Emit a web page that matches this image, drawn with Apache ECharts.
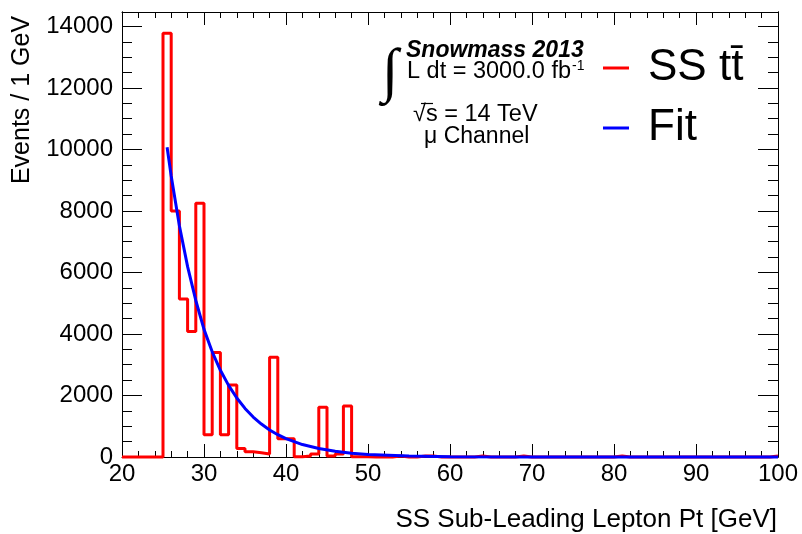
<!DOCTYPE html>
<html>
<head>
<meta charset="utf-8">
<script src="https://cdn.jsdelivr.net/npm/echarts@6/dist/echarts.min.js"></script>
<style>
  html, body { margin: 0; background: #fff; }
  #main { width: 802px; height: 534px; }
</style>
</head>
<body>
<div id="main"></div>
<script>
// 1 GeV bins, first bin starts at 20 GeV
var binStart = 20;
var binWidth = 1;
var counts = [
    0, 0, 0, 0, 0,                       // 20-24
    13780, 8000, 5140, 4080, 8250,       // 25-29
    720, 3400, 720, 2340, 280,           // 30-34
    170, 140, 100, 3240, 590,            // 35-39
    590, 10, 30, 100, 1620,              // 40-44
    30, 100, 1660, 10, 10,               // 45-49
    0, 0, 0, 30, 0, 0, 30, 30, 0, 0,     // 50-59
    0, 0, 0, 30, 0, 0, 0, 0, 30, 0,      // 60-69
    0, 0, 0, 0, 0, 0, 0, 0, 0, 0,        // 70-79
    30, 0, 0, 0, 0, 0, 0, 0, 0, 0,       // 80-89
    0, 0, 0, 0, 0, 0, 0, 0, 0, 30        // 90-99
];

// fit curve
var fitX = [25.5, 26, 27, 28, 29, 30, 31, 32, 33, 34, 35, 36, 37, 38, 39, 40, 42, 44, 46, 48, 50, 55, 60, 70, 80, 90, 100];
var fitY = [10070, 9140, 7520, 6190, 5090, 4150, 3420, 2820, 2330, 1920, 1580, 1300, 1070, 880, 725, 600, 405, 275, 185, 125, 85, 32, 12, 2, 0, 0, 0];

var histName = 'SS tt\u0304';
var fitName = 'Fit';

var histData = [];
for (var i = 0; i < counts.length; i++) {
    histData.push([binStart + i * binWidth, counts[i]]);
}
histData.push([binStart + counts.length * binWidth, counts[counts.length - 1]]);

var fitData = fitX.map(function (x, i) { return [x, fitY[i]]; });

var FONT = '"Liberation Sans", Arial, sans-serif';
var black = '#000';

function xAx(pos, showLabel) {
    return {
        type: 'value', position: pos, min: 20, max: 100, interval: 10,
        axisLine: { show: true, onZero: false, lineStyle: { color: black, width: 1 } },
        axisTick: { inside: true, length: 13, lineStyle: { color: black } },
        minorTick: { show: true, splitNumber: 5, length: 6, lineStyle: { color: black } },
        axisLabel: { show: showLabel, color: black, fontSize: 24, fontFamily: FONT, margin: 5 },
        splitLine: { show: false }
    };
}
function yAx(pos, step, len, showLabel) {
    return {
        type: 'value', position: pos, min: 0, max: 14470, interval: step,
        axisLine: { show: true, onZero: false, lineStyle: { color: black, width: 1 } },
        axisTick: { inside: true, length: len, lineStyle: { color: black } },
        axisLabel: {
            show: showLabel, color: black, fontSize: 24, fontFamily: FONT, margin: 9, showMaxLabel: false,
            formatter: function (v) { return String(v); }
        },
        splitLine: { show: false }
    };
}

function txt(x, y, s, font, align) {
    return {
        type: 'text', x: x, y: y,
        style: { text: s, font: font, fill: black, align: align || 'left', verticalAlign: 'middle',
                 textAlign: align || 'left', textVerticalAlign: 'middle' }
    };
}

var myChart = echarts.init(document.getElementById('main'));
var option = {
    animation: false,
    backgroundColor: '#fff',
    grid: { left: 122, right: 24, top: 12, bottom: 77, outerBoundsMode: 'none' },
    xAxis: [xAx('bottom', true), xAx('top', false)],
    yAxis: [
        yAx('left', 2000, 20, true),
        yAx('left', 500, 10, false),
        yAx('right', 2000, 20, false),
        yAx('right', 500, 10, false)
    ],
    legend: {
        orient: 'vertical', left: 603, top: 40, padding: 0,
        itemWidth: 26, itemHeight: 3, itemGap: 4, icon: 'rect',
        selectedMode: false,
        textStyle: { fontSize: 44, fontFamily: FONT, color: black, lineHeight: 46, padding: [10, 0, 0, 14] },
        data: [histName, fitName]
    },
    series: [
        {
            name: histName, type: 'line', step: 'end', data: histData,
            symbol: 'none', clip: false, z: 2,
            lineStyle: { color: '#ff0000', width: 3 },
            itemStyle: { color: '#ff0000' }
        },
        {
            name: fitName, type: 'line', data: fitData,
            symbol: 'none', clip: false, z: 3,
            lineStyle: { color: '#0000ff', width: 3 },
            itemStyle: { color: '#0000ff' }
        }
    ],
    graphic: [
        txt(390, 74, '\u222B', '60px "Liberation Serif"', 'center'),
        txt(406, 51, 'Snowmass 2013', 'italic bold 23px ' + FONT),
        txt(407, 72, 'L dt = 3000.0 fb', '23.5px ' + FONT),
        txt(572, 66, '-1', '14px ' + FONT),
        txt(413, 115, '\u221As = 14 TeV', '23.5px ' + FONT),
        { type: 'line', shape: { x1: 421, y1: 103.5, x2: 433, y2: 103.5 }, style: { stroke: black, lineWidth: 1.2 } },
        txt(424, 137, '\u03BC Channel', '23px ' + FONT),
        {
            type: 'text', x: 22, y: 100, rotation: Math.PI / 2,
            style: { text: 'Events / 1 GeV', font: '25px ' + FONT, fill: black, align: 'center', verticalAlign: 'middle',
                     textAlign: 'center', textVerticalAlign: 'middle' }
        },
        txt(777, 520, 'SS Sub-Leading Lepton Pt [GeV]', '26px ' + FONT, 'right')
    ]
};

myChart.setOption(option);
</script>
</body>
</html>
